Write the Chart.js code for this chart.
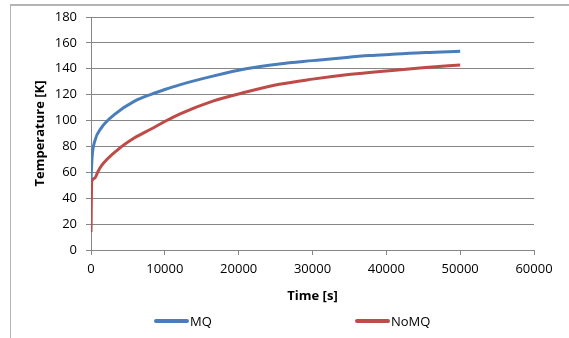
<!DOCTYPE html>
<html>
<head>
<meta charset="utf-8">
<script src="https://cdn.jsdelivr.net/npm/chart.js@4/dist/chart.umd.min.js"></script>
<style>
  html, body { margin: 0; padding: 0; background: #fff; }
  #wrap { position: relative; width: 569px; height: 338px; overflow: hidden; }
  #frame { position: absolute; left: 10px; top: 4px; right: -2px; bottom: -2px;
           border-left: 1px solid #b4b4b4; border-top: 2px solid #b4b4b4; }
  canvas { position: absolute; left: 0; top: 0; }
</style>
</head>
<body>
<div id="wrap">
  <div id="frame"></div>
  <canvas id="c" width="569" height="338"></canvas>
</div>
<script>
// ---- data ----
const seriesNames = ["MQ", "NoMQ"];
const mqTime  = [0, 150, 500, 1400, 3200, 5900, 8150, 10000, 12000, 16500, 21000, 25500, 30000, 34600, 37700, 40800, 45300, 50000];
const mqTemp  = [55, 72, 84, 94.4, 104.8, 115, 120.3, 124, 127.6, 134.3, 140, 143.7, 146.3, 148.8, 150.2, 151.2, 152.6, 153.5];
const noTime  = [0, 100, 500, 950, 1400, 3650, 5900, 8150, 10000, 12000, 16500, 21000, 25500, 30000, 34600, 37700, 40800, 45300, 50000];
const noTemp  = [14, 52.9, 55.5, 60.7, 65, 77.6, 86.7, 93.5, 99.3, 105, 115, 122, 128, 132, 135.4, 137.2, 138.7, 141, 143];
const xTicks  = [0, 10000, 20000, 30000, 40000, 50000, 60000];
const yTicks  = [0, 20, 40, 60, 80, 100, 120, 140, 160, 180];
const xTitle  = "Time [s]";
const yTitle  = "Temperature [K]";

const toPts = (xs, ys) => xs.map((x, i) => ({ x: x, y: ys[i] }));

const FONT = "'Open Sans', 'DejaVu Sans', sans-serif";
const GRID = "#868686";

const legendPlugin = {
  id: 'xlLegend',
  afterDraw(chart, args, opts) {
    const ctx = chart.ctx;
    ctx.save();
    ctx.font = "13px " + FONT;
    ctx.textBaseline = 'middle';
    ctx.fillStyle = '#000';
    chart.data.datasets.forEach((ds, i) => {
      const x0 = opts.starts[i];
      ctx.strokeStyle = ds.borderColor;
      ctx.lineWidth = 4;
      ctx.lineCap = 'round';
      ctx.beginPath();
      ctx.moveTo(x0, opts.y);
      ctx.lineTo(x0 + opts.lineLen, opts.y);
      ctx.stroke();
      ctx.fillText(ds.label, x0 + opts.lineLen + 3, opts.y + 1);
    });
    ctx.restore();
  }
};

new Chart(document.getElementById('c'), {
  type: 'line',
  data: {
    datasets: [
      { label: seriesNames[0], data: toPts(mqTime, mqTemp), borderColor: '#4a7ebb', borderWidth: 3,
        pointRadius: 0, cubicInterpolationMode: 'monotone', fill: false },
      { label: seriesNames[1], data: toPts(noTime, noTemp), borderColor: '#be4b48', borderWidth: 3,
        pointRadius: 0, cubicInterpolationMode: 'monotone', fill: false }
    ]
  },
  options: {
    responsive: false,
    animation: false,
    events: [],
    layout: { padding: { left: 0, right: 35, top: 17, bottom: 30 } },
    plugins: {
      legend: { display: false },
      tooltip: { enabled: false },
      xlLegend: { starts: [156, 357], y: 321, lineLen: 31 }
    },
    scales: {
      x: {
        type: 'linear', min: 0, max: 60000,
        afterBuildTicks: s => { s.ticks = xTicks.map(v => ({ value: v })); },
        afterFit: s => { s.height = 58; },
        ticks: { color: '#000', font: { family: FONT, size: 13 }, padding: 6, maxRotation: 0,
                 callback: v => String(v) },
        grid: { drawOnChartArea: false, drawTicks: true, tickLength: 5, color: GRID },
        border: { display: true, color: GRID },
        title: { display: true, text: xTitle, color: '#000',
                 font: { family: FONT, size: 13, weight: 'bold' }, padding: { top: 0, bottom: 4 } }
      },
      y: {
        type: 'linear', min: 0, max: 180,
        afterBuildTicks: s => { s.ticks = yTicks.map(v => ({ value: v })); },
        afterFit: s => { s.width = 91; },
        ticks: { color: '#000', font: { family: FONT, size: 13 }, padding: 9, callback: v => String(v) },
        grid: { color: GRID, tickLength: 5, drawTicks: true },
        border: { display: true, color: GRID },
        title: { display: true, text: yTitle, color: '#000',
                 font: { family: FONT, size: 13, weight: 'bold' }, padding: { top: 32, bottom: 0 } }
      }
    }
  },
  plugins: [legendPlugin]
});
</script>
</body>
</html>
